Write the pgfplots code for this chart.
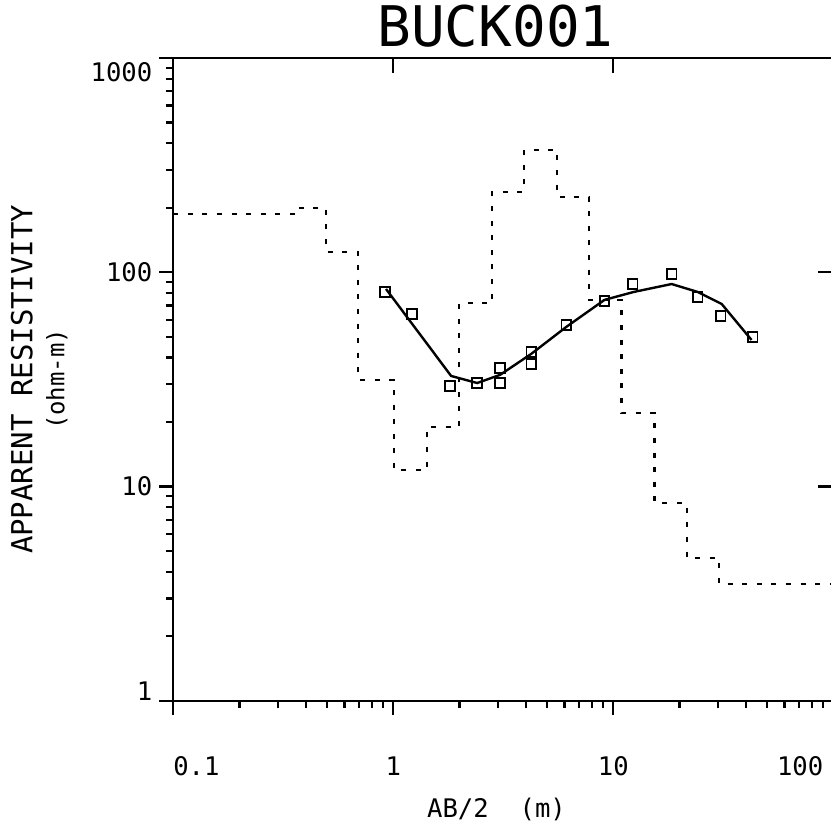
\documentclass[border=0pt]{standalone}
\usepackage{fontspec}
\setmainfont{DejaVu Sans Mono}
\usepackage{pgfplots}
\pgfplotsset{compat=1.18}
\begin{document}
\begin{tikzpicture}[x=1pt,y=1pt]
\path[use as bounding box] (-86.65,-62.65) rectangle (328.85,350.35);
\begin{axis}[
  at={(0,0)}, anchor=south west,
  scale only axis, width=330pt, height=321.35pt,
  xmode=log, ymode=log,
  xmin=0.1, xmax=100, ymin=1, ymax=1000,
  axis line style={line width=1.1pt},
  every tick/.style={black, line width=1.1pt},
  tick align=outside,
  xtick pos=left, ytick pos=left,
  major tick length=7pt, minor tick length=3.75pt,
  xtick={0.1,1,10,100}, ytick={1,10,100,1000},
  xticklabels={\makebox[0pt][l]{0.1},1,10,\makebox[0pt][r]{100\hspace{5pt}}},
  yticklabels={\smash{1},10,100,\smash{\raisebox{-\dimexpr\height+2pt\relax}{1000}}},
  tick label style={font=\fontsize{12.8}{15}\selectfont},
  xticklabel style={anchor=north, yshift=-17.5pt},
  title={BUCK001},
  title style={font=\fontsize{28}{30}\selectfont, at={(0.5,1)}, anchor=base, yshift=0pt, xshift=-3.9pt},
  xlabel={AB/2~~(m)},
  every axis x label/.style={at={(axis description cs:0.5,0)}, anchor=base, yshift=-58.2pt, xshift=-3.4pt, font=\fontsize{12.8}{15}\selectfont},
  ylabel={{\fontsize{14.5}{14}\selectfont APPARENT RESISTIVITY}\\[4pt]{\fontsize{12}{14}\selectfont (ohm-m)}},
  every axis y label/.style={at={(axis description cs:-0.1595,0.5)}, rotate=90, anchor=south, align=center, inner sep=0pt},
]
\addplot[black, line width=1.1pt, dash pattern=on 2.5pt off 4.8pt, const plot] coordinates {
(0.1,187) (0.353,199.6) (0.495,124.4) (0.693,31.4) (1.007,11.9) (1.42,18.97)
(1.99,71.9) (2.82,237) (3.94,372) (5.57,225) (7.78,74.3) (10.9,22.0)
(15.4,8.37) (21.6,4.64) (30.2,3.51) (120,3.51)
};
\addplot[black, line width=1.2pt] coordinates {
(0.927,83.5) (1.832,32.8) (2.406,30.4) (3.06,33.2) (4.24,41.6) (6.12,55.6)
(9.12,74.3) (12.38,80.9) (18.42,88.1) (24.2,80.9) (31.1,71.1) (42.5,48.3)
};
\addplot[black, only marks, mark=square, mark size=2.4pt, mark options={line width=0.9pt}] coordinates {
(0.917,80.9) (1.217,63.9) (1.813,29.5) (2.406,30.4) (3.06,35.7) (3.06,30.4)
(4.24,42.5) (4.24,37.3) (6.12,56.8) (9.12,73.5) (12.24,88.1) (18.42,98.2)
(24.2,76.7) (30.8,62.5) (43.0,49.9)
};
\end{axis}
\begin{axis}[
  at={(0,0)}, anchor=south west,
  scale only axis, width=330pt, height=321.35pt,
  xmode=log, ymode=log,
  xmin=0.1, xmax=100, ymin=1, ymax=1000,
  axis line style={draw=none},
  every tick/.style={black, line width=1.1pt},
  tick align=inside,
  xtick pos=right, ytick pos=right,
  major tick length=7.5pt,
  xminorticks=false, yminorticks=false,
  xtick={1,10}, ytick={10,100},
  xticklabels={}, yticklabels={},
]
\addplot[draw=none] coordinates {(1,10)};
\end{axis}
\end{tikzpicture}
\end{document}
